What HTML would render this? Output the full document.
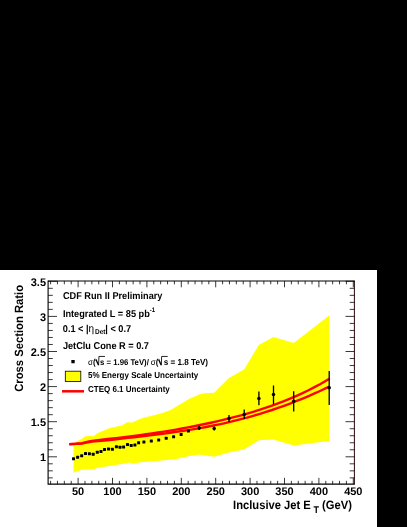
<!DOCTYPE html>
<html>
<head>
<meta charset="utf-8">
<title>CDF Run II Preliminary - Cross Section Ratio</title>
<style>
html,body{margin:0;padding:0;background:#000;}
body{width:407px;height:527px;overflow:hidden;position:relative;}
svg{position:absolute;left:0;top:0;display:block;will-change:transform;}
text{font-family:"Liberation Sans",sans-serif;font-weight:bold;fill:#000;text-rendering:geometricPrecision;}
.r{font-weight:normal;}
</style>
</head>
<body>
<svg width="407" height="527" viewBox="0 0 407 527">
<rect x="0" y="0" width="407" height="527" fill="#000"/>
<rect x="0" y="270" width="377" height="257" fill="#fff"/>
<polygon fill="#ffff00" points="73.6,443.3 77.7,441.0 81.7,438.9 85.3,436.2 89.8,436.1 93.4,436.2 97.9,433.0 101.5,431.5 105.0,429.9 108.6,428.6 112.4,427.4 116.9,426.5 122.0,425.6 127.2,422.3 132.4,422.4 139.2,419.3 144.4,417.6 153.0,415.6 161.6,413.2 170.2,410.3 179.8,404.6 188.4,399.2 199.5,394.3 205.0,393.3 214.2,392.8 229.0,378.0 244.1,369.4 258.8,345.1 273.5,336.9 293.7,343.1 329.2,315.4 329.2,440.9 293.7,445.6 273.5,439.5 258.8,440.2 244.1,449.4 229.0,452.5 214.2,456.7 199.5,454.4 188.4,456.2 181.0,457.9 173.2,459.5 161.6,460.6 144.4,462.0 140.8,462.3 133.4,463.5 129.0,462.5 124.6,463.6 118.7,464.4 108.3,466.2 99.5,467.3 93.6,469.3 88.0,469.5 81.8,469.8 73.6,472.5"/>
<g fill="none" stroke="#ff0000" stroke-width="2.4" stroke-linejoin="round">
<polyline points="69.3,444.1 76.0,443.7 82.0,443.2 85.0,442.4 88.0,441.7 92.0,440.9 98.0,440.2 104.0,439.4 110.0,438.7 116.0,438.1 122.0,437.4 128.0,436.7 134.0,435.9 140.0,435.1 146.0,434.3 152.0,433.4 158.0,432.5 164.0,431.6 170.0,430.6 176.0,429.6 182.0,428.5 188.0,427.4 194.0,426.2 200.0,425.0 206.0,423.8 212.0,422.5 218.0,421.1 224.0,419.7 230.0,418.2 236.0,416.7 242.0,415.1 248.0,413.4 254.0,411.6 260.0,409.7 266.0,407.7 272.0,405.6 278.0,403.4 284.0,401.1 290.0,398.7 296.0,396.1 302.0,393.4 308.0,390.5 314.0,387.4 320.0,384.2 326.0,380.8 329.2,378.9"/>
<polyline points="69.3,444.2 76.0,443.9 82.0,443.6 85.0,442.9 88.0,442.3 92.0,441.5 98.0,441.0 104.0,440.5 110.0,440.0 116.0,439.3 122.0,438.6 128.0,437.9 134.0,437.2 140.0,436.5 146.0,435.8 152.0,435.1 158.0,434.3 164.0,433.6 170.0,432.8 176.0,431.9 182.0,431.0 188.0,430.1 194.0,429.1 200.0,428.1 206.0,427.0 212.0,425.8 218.0,424.6 224.0,423.3 230.0,421.9 236.0,420.4 242.0,418.9 248.0,417.3 254.0,415.6 260.0,413.8 266.0,411.9 272.0,410.0 278.0,407.9 284.0,405.8 290.0,403.6 296.0,401.2 302.0,398.8 308.0,396.3 314.0,393.7 320.0,391.0 326.0,388.2 329.2,386.7"/>
</g>
<path d="M199.2 426.0V430.0M214.2 426.6V430.6M229.0 415.1V422.1M244.2 409.5V419.0M258.9 391.5V405.3M273.5 385.5V404.3M293.7 391.2V411.6M329.2 371.1V405.0" stroke="#000" stroke-width="1.3" fill="none"/>
<g fill="#000"><rect x="72.00" y="457.20" width="3.0" height="3.0" rx="0.5"/><rect x="76.10" y="455.80" width="3.0" height="3.0" rx="0.5"/><rect x="80.20" y="454.20" width="3.0" height="3.0" rx="0.5"/><rect x="84.00" y="452.00" width="3.0" height="3.0" rx="0.5"/><rect x="87.90" y="452.30" width="3.0" height="3.0" rx="0.5"/><rect x="91.70" y="452.80" width="3.0" height="3.0" rx="0.5"/><rect x="95.80" y="450.70" width="3.0" height="3.0" rx="0.5"/><rect x="99.50" y="450.10" width="3.0" height="3.0" rx="0.5"/><rect x="103.00" y="447.90" width="3.0" height="3.0" rx="0.5"/><rect x="107.00" y="447.50" width="3.0" height="3.0" rx="0.5"/><rect x="110.90" y="447.70" width="3.0" height="3.0" rx="0.5"/><rect x="114.90" y="445.30" width="3.0" height="3.0" rx="0.5"/><rect x="118.50" y="445.70" width="3.0" height="3.0" rx="0.5"/><rect x="122.10" y="445.50" width="3.0" height="3.0" rx="0.5"/><rect x="126.00" y="442.90" width="3.0" height="3.0" rx="0.5"/><rect x="129.70" y="443.90" width="3.0" height="3.0" rx="0.5"/><rect x="133.40" y="443.40" width="3.0" height="3.0" rx="0.5"/><rect x="137.10" y="441.20" width="3.0" height="3.0" rx="0.5"/><rect x="142.40" y="440.50" width="3.0" height="3.0" rx="0.5"/><rect x="149.80" y="439.60" width="3.0" height="3.0" rx="0.5"/><rect x="157.20" y="438.60" width="3.0" height="3.0" rx="0.5"/><rect x="164.70" y="436.70" width="3.0" height="3.0" rx="0.5"/><rect x="172.10" y="435.30" width="3.0" height="3.0" rx="0.5"/><rect x="179.60" y="433.00" width="3.0" height="3.0" rx="0.5"/><rect x="186.90" y="429.40" width="3.0" height="3.0" rx="0.5"/><circle cx="199.2" cy="427.9" r="1.75"/><circle cx="214.2" cy="428.6" r="1.75"/><circle cx="229.0" cy="418.6" r="1.75"/><circle cx="244.2" cy="414.6" r="1.75"/><circle cx="258.9" cy="398.6" r="1.75"/><circle cx="273.5" cy="394.4" r="1.75"/><circle cx="293.7" cy="401.2" r="1.75"/><circle cx="329.2" cy="387.8" r="1.75"/></g>
<path d="M48.1 280.5V484.15H354.79999999999995" fill="none" stroke="#000" stroke-width="1.1"/><path d="M48.1 281.0H354.4" fill="none" stroke="#000" stroke-width="1"/><path d="M354.4 280.6V484.15" fill="none" stroke="#280a0a" stroke-width="1"/>
<path d="M50.58 484.15v-3.3M50.58 281.0v3.3M57.46 484.15v-3.3M57.46 281.0v3.3M64.34 484.15v-3.3M64.34 281.0v3.3M71.22 484.15v-3.3M71.22 281.0v3.3M78.10 484.15v-6.3M78.10 281.0v6.3M84.98 484.15v-3.3M84.98 281.0v3.3M91.86 484.15v-3.3M91.86 281.0v3.3M98.74 484.15v-3.3M98.74 281.0v3.3M105.62 484.15v-3.3M105.62 281.0v3.3M112.50 484.15v-6.3M112.50 281.0v6.3M119.38 484.15v-3.3M119.38 281.0v3.3M126.26 484.15v-3.3M126.26 281.0v3.3M133.14 484.15v-3.3M133.14 281.0v3.3M140.02 484.15v-3.3M140.02 281.0v3.3M146.90 484.15v-6.3M146.90 281.0v6.3M153.78 484.15v-3.3M153.78 281.0v3.3M160.66 484.15v-3.3M160.66 281.0v3.3M167.54 484.15v-3.3M167.54 281.0v3.3M174.42 484.15v-3.3M174.42 281.0v3.3M181.30 484.15v-6.3M181.30 281.0v6.3M188.18 484.15v-3.3M188.18 281.0v3.3M195.06 484.15v-3.3M195.06 281.0v3.3M201.94 484.15v-3.3M201.94 281.0v3.3M208.82 484.15v-3.3M208.82 281.0v3.3M215.70 484.15v-6.3M215.70 281.0v6.3M222.58 484.15v-3.3M222.58 281.0v3.3M229.46 484.15v-3.3M229.46 281.0v3.3M236.34 484.15v-3.3M236.34 281.0v3.3M243.22 484.15v-3.3M243.22 281.0v3.3M250.10 484.15v-6.3M250.10 281.0v6.3M256.98 484.15v-3.3M256.98 281.0v3.3M263.86 484.15v-3.3M263.86 281.0v3.3M270.74 484.15v-3.3M270.74 281.0v3.3M277.62 484.15v-3.3M277.62 281.0v3.3M284.50 484.15v-6.3M284.50 281.0v6.3M291.38 484.15v-3.3M291.38 281.0v3.3M298.26 484.15v-3.3M298.26 281.0v3.3M305.14 484.15v-3.3M305.14 281.0v3.3M312.02 484.15v-3.3M312.02 281.0v3.3M318.90 484.15v-6.3M318.90 281.0v6.3M325.78 484.15v-3.3M325.78 281.0v3.3M332.66 484.15v-3.3M332.66 281.0v3.3M339.54 484.15v-3.3M339.54 281.0v3.3M346.42 484.15v-3.3M346.42 281.0v3.3M353.30 484.15v-6.3M353.30 281.0v6.3M48.1 477.86h4.7M354.4 477.86h-4.7M48.1 470.84h4.7M354.4 470.84h-4.7M48.1 463.82h4.7M354.4 463.82h-4.7M48.1 456.80h8.9M354.4 456.80h-8.9M48.1 449.78h4.7M354.4 449.78h-4.7M48.1 442.76h4.7M354.4 442.76h-4.7M48.1 435.74h4.7M354.4 435.74h-4.7M48.1 428.72h4.7M354.4 428.72h-4.7M48.1 421.70h8.9M354.4 421.70h-8.9M48.1 414.68h4.7M354.4 414.68h-4.7M48.1 407.66h4.7M354.4 407.66h-4.7M48.1 400.64h4.7M354.4 400.64h-4.7M48.1 393.62h4.7M354.4 393.62h-4.7M48.1 386.60h8.9M354.4 386.60h-8.9M48.1 379.58h4.7M354.4 379.58h-4.7M48.1 372.56h4.7M354.4 372.56h-4.7M48.1 365.54h4.7M354.4 365.54h-4.7M48.1 358.52h4.7M354.4 358.52h-4.7M48.1 351.50h8.9M354.4 351.50h-8.9M48.1 344.48h4.7M354.4 344.48h-4.7M48.1 337.46h4.7M354.4 337.46h-4.7M48.1 330.44h4.7M354.4 330.44h-4.7M48.1 323.42h4.7M354.4 323.42h-4.7M48.1 316.40h8.9M354.4 316.40h-8.9M48.1 309.38h4.7M354.4 309.38h-4.7M48.1 302.36h4.7M354.4 302.36h-4.7M48.1 295.34h4.7M354.4 295.34h-4.7M48.1 288.32h4.7M354.4 288.32h-4.7M48.1 281.30h8.9M354.4 281.30h-8.9" stroke="#000" stroke-width="0.78" fill="none"/>
<text transform="translate(78.1,495) scale(1,1.01)" font-size="11" text-anchor="middle">50</text><text transform="translate(112.5,495) scale(1,1.01)" font-size="11" text-anchor="middle">100</text><text transform="translate(146.9,495) scale(1,1.01)" font-size="11" text-anchor="middle">150</text><text transform="translate(181.3,495) scale(1,1.01)" font-size="11" text-anchor="middle">200</text><text transform="translate(215.7,495) scale(1,1.01)" font-size="11" text-anchor="middle">250</text><text transform="translate(250.1,495) scale(1,1.01)" font-size="11" text-anchor="middle">300</text><text transform="translate(284.5,495) scale(1,1.01)" font-size="11" text-anchor="middle">350</text><text transform="translate(318.9,495) scale(1,1.01)" font-size="11" text-anchor="middle">400</text><text transform="translate(353.3,495) scale(1,1.01)" font-size="11" text-anchor="middle">450</text>
<text transform="translate(46,461) scale(1,1.01)" font-size="11" text-anchor="end">1</text><text transform="translate(46,426) scale(1,1.01)" font-size="11" text-anchor="end">1.5</text><text transform="translate(46,391) scale(1,1.01)" font-size="11" text-anchor="end">2</text><text transform="translate(46,356) scale(1,1.01)" font-size="11" text-anchor="end">2.5</text><text transform="translate(46,321) scale(1,1.01)" font-size="11" text-anchor="end">3</text><text transform="translate(46,286) scale(1,1.01)" font-size="11" text-anchor="end">3.5</text>
<text transform="translate(233.1,509) scale(1,1.08)" font-size="11.2">Inclusive Jet E</text><text transform="translate(313.5,513) scale(1,1.08)" font-size="9">T</text><text transform="translate(322.1,509) scale(1,1.08)" font-size="11.2">(GeV)</text>
<text transform="translate(23.2,391.8) rotate(-90) scale(1,1.06)" font-size="11.26">Cross Section Ratio</text>
<text transform="translate(62.9,299) scale(1,1.08)" font-size="9.2">CDF Run II Preliminary</text>
<text transform="translate(62.9,317) scale(1,1.08)" font-size="9.2">Integrated L = 85 pb<tspan font-size="6" dy="-4.3">-1</tspan></text>
<text transform="translate(62.8,332) scale(1,1.08)" font-size="9.2">0.1 &lt; |</text><text transform="translate(88.4,332) scale(1,1.08)" font-size="10" class="r">η</text><text transform="translate(95,334) scale(1,1.08)" font-size="6.5">Det</text><text transform="translate(105.3,332) scale(1,1.08)" font-size="9.2">| &lt; 0.7</text>
<text transform="translate(62.9,349) scale(1,1.08)" font-size="9.2">JetClu Cone R = 0.7</text>
<rect x="71.35" y="359.95" width="3.35" height="3.3" rx="0.25" fill="#000"/>
<rect x="65.3" y="371.2" width="15.5" height="10.3" fill="#ffff00" stroke="#000" stroke-width="0.8"/>
<line x1="62" y1="391.3" x2="84" y2="391.3" stroke="#ff0000" stroke-width="2.5"/>
<text transform="translate(88.1,365) scale(1,1.08)" font-size="8" class="r">σ</text><text transform="translate(93,365) scale(1,1.08)" font-size="8">(</text><text transform="translate(100.0,365) scale(1,1.08)" font-size="7.78">s = 1.96 TeV)/</text>
<text transform="translate(150.8,365) scale(1,1.08)" font-size="8" class="r">σ</text><text transform="translate(155.7,365) scale(1,1.08)" font-size="8">(</text><text transform="translate(163.7,365) scale(1,1.08)" font-size="8.14">s = 1.8 TeV)</text>
<path d="M95.30 360.50L96.10 359.70" fill="none" stroke="#000" stroke-width="0.8"/><path d="M96.00 359.60L98.45 365.10" fill="none" stroke="#000" stroke-width="1.35"/><path d="M98.60 365.40L98.95 356.45H105.00" fill="none" stroke="#000" stroke-width="0.85" stroke-linejoin="miter"/><path d="M158.00 360.50L158.80 359.70" fill="none" stroke="#000" stroke-width="0.8"/><path d="M158.70 359.60L161.15 365.10" fill="none" stroke="#000" stroke-width="1.35"/><path d="M161.30 365.40L161.65 356.45H167.70" fill="none" stroke="#000" stroke-width="0.85" stroke-linejoin="miter"/>
<text transform="translate(88,378) scale(1,1.08)" font-size="8">5% Energy Scale Uncertainty</text>
<text transform="translate(88,392) scale(1,1.08)" font-size="8">CTEQ 6.1 Uncertainty</text>
</svg>
</body>
</html>
